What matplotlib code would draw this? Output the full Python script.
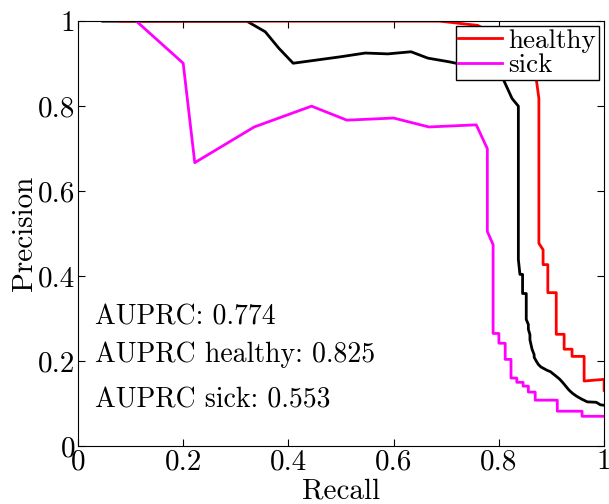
import matplotlib
matplotlib.use("Agg")
import matplotlib.pyplot as plt

plt.rcParams['font.family'] = 'serif'
plt.rcParams['font.serif'] = ['cmr10', 'DejaVu Serif']
plt.rcParams['mathtext.fontset'] = 'cm'
plt.rcParams['axes.formatter.use_mathtext'] = True

# --- дані ---
rec_all = [0.047, 0.321, 0.356, 0.382, 0.409, 0.498, 0.546, 0.589, 0.633, 0.665,
           0.707, 0.76, 0.808, 0.825, 0.837, 0.837, 0.840, 0.845, 0.845, 0.852,
           0.852, 0.856, 0.856, 0.859, 0.859, 0.863, 0.867, 0.867, 0.871, 0.875,
           0.880, 0.886, 0.892, 0.898, 0.903, 0.909, 0.915, 0.921, 0.927, 0.933,
           0.940, 0.948, 0.958, 0.968, 0.985, 0.993, 1.0]
prec_all = [1.0, 1.0, 0.975, 0.936, 0.901, 0.916, 0.925, 0.923, 0.928, 0.913,
            0.904, 0.89, 0.864, 0.818, 0.80, 0.439, 0.404, 0.404, 0.359, 0.359,
            0.298, 0.286, 0.275, 0.262, 0.250, 0.228, 0.215, 0.209, 0.200, 0.192,
            0.186, 0.182, 0.178, 0.175, 0.170, 0.164, 0.158, 0.150, 0.141, 0.132,
            0.124, 0.117, 0.110, 0.104, 0.103, 0.097, 0.096]

rec_healthy = [0.08, 0.688, 0.76, 0.82, 0.871, 0.876, 0.876, 0.884, 0.884, 0.893,
               0.893, 0.909, 0.909, 0.924, 0.924, 0.939, 0.939, 0.962, 0.962, 1.0, 1.0]
prec_healthy = [1.0, 1.0, 0.99, 0.95, 0.864, 0.818, 0.477, 0.462, 0.427, 0.427,
                0.361, 0.361, 0.263, 0.263, 0.228, 0.228, 0.211, 0.211, 0.153, 0.157, 0.131]

rec_sick = [0.111, 0.2, 0.222, 0.335, 0.444, 0.511, 0.6, 0.667, 0.757, 0.778,
            0.778, 0.789, 0.789, 0.8, 0.8, 0.812, 0.812, 0.823, 0.823, 0.834,
            0.834, 0.846, 0.846, 0.856, 0.856, 0.869, 0.869, 0.911, 0.911, 0.958,
            0.958, 1.0]
prec_sick = [1.0, 0.901, 0.667, 0.751, 0.80, 0.767, 0.772, 0.751, 0.756, 0.70,
             0.505, 0.474, 0.265, 0.265, 0.242, 0.242, 0.204, 0.204, 0.160, 0.160,
             0.150, 0.150, 0.141, 0.141, 0.127, 0.127, 0.108, 0.108, 0.082, 0.082,
             0.070, 0.070]

auprc_texts = ["AUPRC: 0.774", "AUPRC healthy: 0.825", "AUPRC sick: 0.553"]
text_y = [0.302, 0.214, 0.107]

fig = plt.figure(figsize=(6.09, 5.04), dpi=100)
ax = fig.add_axes([0.128, 0.115, 0.864, 0.843])

ax.plot(rec_all, prec_all, color='black', lw=2)
l1, = ax.plot(rec_healthy, prec_healthy, color='red', lw=2, label='healthy')
l2, = ax.plot(rec_sick, prec_sick, color='magenta', lw=2, label='sick')

ax.set_xlim(0, 1)
ax.set_ylim(0, 1)
ax.set_xticks([0, 0.2, 0.4, 0.6, 0.8, 1])
ax.set_yticks([0, 0.2, 0.4, 0.6, 0.8, 1])
ax.set_xticklabels(['0', '0.2', '0.4', '0.6', '0.8', '1'])
ax.set_yticklabels(['0', '0.2', '0.4', '0.6', '0.8', '1'])
ax.tick_params(direction='in', top=True, right=True, labelsize=21, length=5, pad=2)
ax.set_xlabel('Recall', fontsize=21, labelpad=2)
ax.set_ylabel('Precision', fontsize=21, labelpad=0)

for t, y in zip(auprc_texts, text_y):
    ax.text(0.032, y, t, fontsize=20, va='center', ha='left')

leg = ax.legend(handles=[l1, l2], loc='upper right', fontsize=19.5,
                bbox_to_anchor=(0.99, 0.988), borderaxespad=0.0,
                handlelength=1.6, handletextpad=0.25, borderpad=0.1,
                labelspacing=0.02, fancybox=False, framealpha=1)
leg.get_frame().set_edgecolor('black')
leg.get_frame().set_linewidth(1)

fig.savefig('out.png', dpi=100)
